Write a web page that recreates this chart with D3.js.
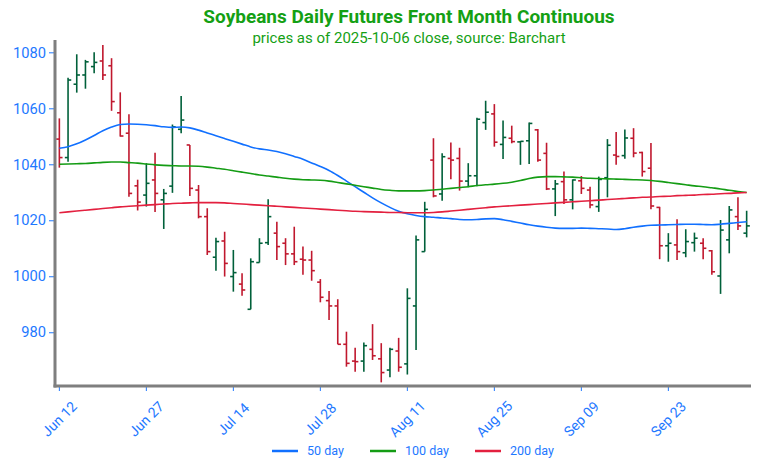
<!DOCTYPE html>
<html><head><meta charset="utf-8">
<script src="https://cdn.jsdelivr.net/npm/d3@7"></script>
<style>
html,body{margin:0;padding:0;background:#fff;}
svg{display:block;font-family:Roboto,"Noto Sans",sans-serif;}
</style></head>
<body><svg id="chart" width="759" height="474"></svg>
<script>
const dates = ["2025-06-12","2025-06-13","2025-06-16","2025-06-17","2025-06-18","2025-06-20","2025-06-23","2025-06-24","2025-06-25","2025-06-26",
"2025-06-27","2025-06-30","2025-07-01","2025-07-02","2025-07-03","2025-07-07","2025-07-08","2025-07-09","2025-07-10","2025-07-11",
"2025-07-14","2025-07-15","2025-07-16","2025-07-17","2025-07-18","2025-07-21","2025-07-22","2025-07-23","2025-07-24","2025-07-25",
"2025-07-28","2025-07-29","2025-07-30","2025-07-31","2025-08-01","2025-08-04","2025-08-05","2025-08-06","2025-08-07","2025-08-08",
"2025-08-11","2025-08-12","2025-08-13","2025-08-14","2025-08-15","2025-08-18","2025-08-19","2025-08-20","2025-08-21","2025-08-22",
"2025-08-25","2025-08-26","2025-08-27","2025-08-28","2025-08-29","2025-09-02","2025-09-03","2025-09-04","2025-09-05","2025-09-08",
"2025-09-09","2025-09-10","2025-09-11","2025-09-12","2025-09-15","2025-09-16","2025-09-17","2025-09-18","2025-09-19","2025-09-22",
"2025-09-23","2025-09-24","2025-09-25","2025-09-26","2025-09-29","2025-09-30","2025-10-01","2025-10-02","2025-10-03","2025-10-06"];

const open  = [1049,1042.4,1068.6,1071.9,1074.9,1076.9,1075.2,1058.4,1051.1,1032.3,
1029.0,1034.4,1027.3,1032.2,1052.5,1046.9,1030.8,1021.3,1006.8,1012.6,
999.9,997.2,988.2,1004.9,1012.0,1015.4,1011.8,1008.0,1006.1,1005.8,
997.9,991.3,989.4,975.7,969.7,969.7,973.9,970.5,966.5,973.3,
968.7,989.4,1008.8,1041.5,1029.4,1042.1,1042.1,1034.0,1035.9,1054.9,
1058.0,1047.1,1049.3,1048.0,1048.4,1052.3,1043.9,1031.2,1033.8,1027.3,
1034.1,1030.8,1024.9,1035.2,1043.3,1043.1,1049.3,1044.2,1038.6,1024.6,
1010.9,1011.2,1008.4,1012.0,1011.8,1009.1,1000.1,1013.0,1021.3,1015.4];
const high  = [1056.4,1070.9,1079.3,1077.3,1080.0,1082.6,1077.9,1065.7,1057.9,1034.5,
1040.4,1044.1,1031.2,1054.2,1064.4,1046.9,1032.6,1024.3,1013.8,1015.9,
1009.4,1001.1,1006.4,1013.6,1027.5,1019.5,1013.6,1017.7,1010.6,1009.1,
999.0,994.7,991.8,980.2,974.5,976.3,982.9,976.1,974.5,978.0,
995.7,1014.6,1026.6,1049.3,1043.9,1047.8,1045.9,1040.4,1056.6,1062.7,
1061.5,1055.6,1053.8,1048.3,1054.9,1052.6,1047.7,1034.4,1037.4,1034.6,
1035.8,1032.0,1035.6,1049.0,1051.5,1052.4,1052.9,1044.5,1047.6,1024.8,
1015.4,1020.4,1016.8,1015.6,1013.6,1009.4,1020.1,1025.1,1028.2,1023.4];
const low   = [1038.8,1040.9,1065.6,1067.0,1072.5,1070.1,1059.1,1049.9,1028.4,1023.5,
1024.9,1023.0,1016.9,1029.8,1051.1,1028.7,1020.7,1007.6,1002.0,999.9,
994.5,993.0,988.2,1004.9,1011.2,1005.8,1004.0,1004.0,1000.5,998.4,
990.7,984.4,975.7,967.7,965.9,965.9,970.1,962.1,963.9,965.9,
964.9,973.7,1008.8,1028.2,1027.0,1034.7,1030.6,1031.8,1032.2,1052.3,
1046.3,1041.9,1047.5,1039.8,1040.1,1040.9,1030.8,1021.5,1025.8,1023.9,
1029.4,1024.3,1023.0,1028.2,1039.8,1042.0,1042.5,1035.6,1023.9,1006.1,
1005.2,1005.8,1006.8,1008.8,1006.1,1000.5,993.7,1008.2,1016.5,1013.9];
const close = [1042.4,1070.1,1071.9,1076.6,1076.4,1071.9,1062.4,1050.1,1029.6,1026.5,
1033.2,1029.6,1029.6,1053.4,1055.8,1031.4,1021.3,1008.8,1012.4,1004.6,
1001.3,995.1,1005.2,1011.8,1021.3,1010.6,1008.0,1005.2,1005.8,1002.0,
992.5,989.4,975.7,968.9,969.5,975.2,971.6,965.6,973.9,967.5,
992.1,1013.0,1023.9,1028.7,1042.7,1041.5,1034.0,1035.9,1056.1,1058.6,
1047.9,1049.6,1048.1,1048.2,1054.6,1041.5,1031.2,1033.0,1027.3,1034.4,
1031.4,1025.5,1034.6,1046.8,1042.8,1049.4,1044.0,1037.4,1025.1,1010.9,
1011.8,1008.8,1012.4,1013.6,1010.0,1001.6,1016.5,1023.7,1018.0,1018.0];

const ma50 = [1045.7,1046.3,1047.3,1048.7,1050.3,1052.0,1053.3,1054.2,1054.4,1054.3,
1054.1,1053.8,1053.4,1053.2,1053.3,1053.0,1052.2,1051.2,1050.2,1049.2,
1048.2,1047.2,1046.2,1045.5,1045.1,1044.6,1043.8,1042.8,1041.8,1040.5,
1039.2,1037.8,1036.0,1034.0,1032.0,1030.0,1028.0,1026.2,1024.6,1023.2,
1022.3,1021.7,1021.3,1021.1,1020.8,1020.6,1020.3,1020.2,1020.3,1020.5,
1020.6,1020.2,1019.6,1019.0,1018.4,1017.9,1017.5,1017.2,1017.1,1017.1,
1017.2,1017.1,1017.0,1016.9,1016.7,1017.0,1017.5,1017.9,1018.2,1018.3,
1018.4,1018.5,1018.6,1018.6,1018.5,1018.4,1018.6,1018.9,1019.2,1019.5];
const ma100 = [1040.0,1040.1,1040.2,1040.3,1040.5,1040.7,1040.8,1040.8,1040.6,1040.4,
1040.1,1039.8,1039.6,1039.5,1039.4,1039.4,1039.3,1039.0,1038.6,1038.2,
1037.7,1037.2,1036.7,1036.2,1035.8,1035.4,1035.0,1034.7,1034.5,1034.4,
1034.3,1034.0,1033.5,1033.0,1032.5,1032.0,1031.5,1031.0,1030.7,1030.5,
1030.5,1030.5,1030.6,1030.8,1031.1,1031.4,1031.7,1032.0,1032.4,1032.7,
1032.9,1033.2,1033.6,1034.2,1034.9,1035.4,1035.6,1035.6,1035.5,1035.4,
1035.2,1035.0,1034.9,1034.8,1034.7,1034.6,1034.5,1034.4,1034.2,1033.9,
1033.5,1033.1,1032.7,1032.3,1032.0,1031.6,1031.2,1030.7,1030.3,1029.9];
const ma200 = [1022.7,1023.0,1023.3,1023.6,1023.9,1024.2,1024.5,1024.8,1025.0,1025.2,
1025.4,1025.6,1025.8,1026.0,1026.1,1026.2,1026.3,1026.3,1026.3,1026.2,
1026.0,1025.8,1025.6,1025.4,1025.2,1025.0,1024.8,1024.6,1024.4,1024.2,
1024.0,1023.8,1023.6,1023.4,1023.2,1023.1,1023.0,1022.9,1022.8,1022.8,
1022.7,1022.7,1022.7,1022.8,1023.0,1023.3,1023.6,1023.9,1024.2,1024.5,
1024.8,1025.0,1025.2,1025.4,1025.6,1025.8,1026.0,1026.2,1026.4,1026.6,
1026.8,1027.0,1027.2,1027.4,1027.6,1027.8,1028.0,1028.2,1028.3,1028.5,
1028.6,1028.8,1028.9,1029.0,1029.2,1029.3,1029.5,1029.6,1029.8,1029.9];

const yTicks = [980,1000,1020,1040,1060,1080];
const xTickDates = ["2025-06-12","2025-06-27","2025-07-14","2025-07-28","2025-08-11","2025-08-25","2025-09-09","2025-09-23"];
const xTickLabels = ["Jun 12","Jun 27","Jul 14","Jul 28","Aug 11","Aug 25","Sep 09","Sep 23"];
const legendNames = ["50 day","100 day","200 day"];

const titleText = "Soybeans Daily Futures Front Month Continuous";
const subtitleText = "prices as of 2025-10-06 close, source: Barchart";

const C = {up:"#00603a", down:"#c0182e", ma50:"#1170ff", ma100:"#149c14", ma200:"#e3203f", axis:"#7f7f7f", tick:"#1e78ff", title:"#14a014"};

const svg = d3.select("#chart");
const L=55, R=751, T=40, B=386;
const x = d3.scaleBand().domain(dates).range([L,R]);
const cx = d => x(d) + x.bandwidth()/2;
const y = d3.scaleLinear().domain([960.8,1084.4]).range([B,T]);

// title
svg.append("text").attr("x",409).attr("y",23).attr("text-anchor","middle")
  .attr("font-size",19).attr("font-weight","bold").attr("fill",C.title).text(titleText);
svg.append("text").attr("x",409).attr("y",42.5).attr("text-anchor","middle")
  .attr("font-size",15).attr("fill",C.title).text(subtitleText);

// bars
const bars = dates.map((d,i)=>({d,o:open[i],h:high[i],l:low[i],c:close[i]}));
const g = svg.append("g");
const bg = g.selectAll("g.bar").data(bars).join("g")
  .attr("stroke",b=>b.c>=b.o?C.up:C.down).attr("stroke-width",1.6);
bg.append("line").attr("x1",b=>cx(b.d)).attr("x2",b=>cx(b.d)).attr("y1",b=>y(b.h)).attr("y2",b=>y(b.l));
bg.append("line").attr("x1",b=>cx(b.d)-3.2).attr("x2",b=>cx(b.d)).attr("y1",b=>y(b.o)).attr("y2",b=>y(b.o));
bg.append("line").attr("x1",b=>cx(b.d)).attr("x2",b=>cx(b.d)+3.2).attr("y1",b=>y(b.c)).attr("y2",b=>y(b.c));

// moving averages
const series = [{name:legendNames[0],vals:ma50,col:C.ma50},{name:legendNames[1],vals:ma100,col:C.ma100},{name:legendNames[2],vals:ma200,col:C.ma200}];
const line = d3.line().x((v,i)=>cx(dates[i])).y(v=>y(v)).curve(d3.curveMonotoneX);
series.forEach(s=>{
  svg.append("path").attr("d",line(s.vals)).attr("fill","none").attr("stroke",s.col).attr("stroke-width",1.6);
});

// y axis
const ya = svg.append("g").attr("transform",`translate(${L},0)`)
  .call(d3.axisLeft(y).tickValues(yTicks).tickSize(5).tickSizeOuter(0).tickPadding(4).tickFormat(d3.format("d")));
ya.select(".domain").remove();
ya.selectAll(".tick line").attr("stroke",C.tick).attr("transform","translate(-1,0)");
ya.selectAll(".tick text").attr("fill",C.tick).attr("font-size",14.7).attr("font-family","Roboto");

// x axis
const xa = svg.append("g").attr("transform",`translate(0,${B})`)
  .call(d3.axisBottom(x).tickValues(xTickDates).tickSize(4).tickSizeOuter(0).tickFormat((d,i)=>xTickLabels[i]));
xa.select(".domain").remove();
xa.selectAll(".tick line").attr("stroke",C.tick).attr("transform","translate(0,1)");
xa.selectAll(".tick text").attr("fill",C.tick).attr("font-size",14).attr("font-family","Roboto")
  .attr("y",0).attr("dy","0.35em").attr("text-anchor","middle")
  .attr("transform","translate(0,33) rotate(-45)");

// axis lines
svg.append("line").attr("x1",L).attr("x2",L).attr("y1",T).attr("y2",B+1.5).attr("stroke",C.axis).attr("stroke-width",3);
svg.append("line").attr("x1",L-1.5).attr("x2",R).attr("y1",B).attr("y2",B).attr("stroke",C.axis).attr("stroke-width",3);

// legend
const lx = [272,370,475];
series.forEach((s,i)=>{
  svg.append("line").attr("x1",lx[i]).attr("x2",lx[i]+26).attr("y1",451).attr("y2",451).attr("stroke",s.col).attr("stroke-width",2.5);
  svg.append("text").attr("x",lx[i]+35).attr("y",451).attr("dy","0.35em").attr("font-size",12.5).attr("fill",C.tick).text(s.name);
});
</script></body></html>
